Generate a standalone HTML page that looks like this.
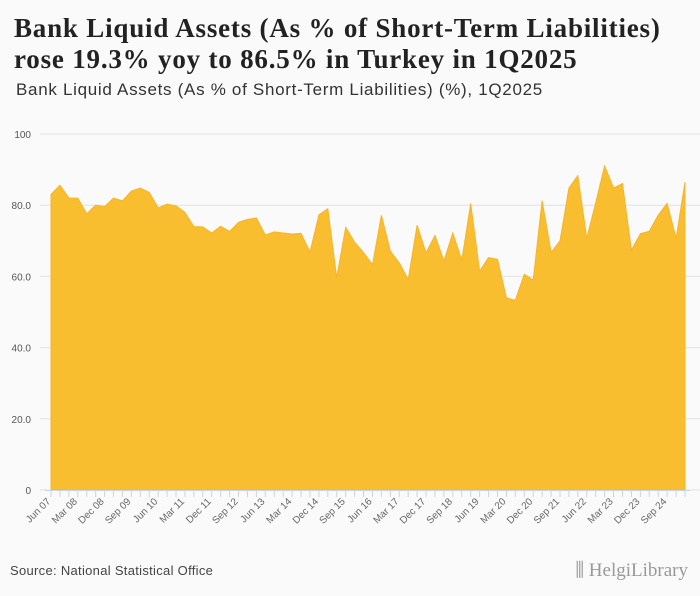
<!DOCTYPE html>
<html><head><meta charset="utf-8"><style>
body{margin:0;background:#fafafa;}
#wrap{width:700px;height:596px;position:relative;background:#fafafa;font-family:"Liberation Sans",sans-serif;overflow:hidden}
h1{position:absolute;left:14px;top:13px;margin:0;font-family:"Liberation Serif",serif;font-weight:bold;font-size:27px;line-height:31px;letter-spacing:0.8px;color:#222}
.sub{position:absolute;left:16px;top:80px;font-size:17px;letter-spacing:0.7px;color:#333}
.src{position:absolute;left:10px;top:563px;font-size:13px;letter-spacing:0.3px;color:#444}
.logo{position:absolute;right:12px;top:560px;font-family:"Liberation Serif",serif;font-size:19px;color:#999}
</style></head><body>
<div id="wrap">
<h1>Bank Liquid Assets (As % of Short-Term Liabilities)<br>rose 19.3% yoy to 86.5% in Turkey in 1Q2025</h1>
<div class="sub">Bank Liquid Assets (As % of Short-Term Liabilities) (%), 1Q2025</div>
<svg id="chart" width="700" height="596" style="position:absolute;left:0;top:0"></svg>
<div class="src">Source: National Statistical Office</div>
<div class="logo">⫼ HelgiLibrary</div>
</div>
<script>
const values=[83.0,85.6,82.0,82.0,77.6,80.0,79.6,82.0,81.2,84.0,84.8,83.6,79.2,80.3,79.8,78.0,74.0,73.9,72.2,74.1,72.6,75.2,76.0,76.4,71.6,72.5,72.2,71.9,72.1,66.8,77.3,79.0,59.7,73.8,69.6,66.7,63.3,77.2,67.1,63.8,59.1,74.4,66.6,71.5,64.3,72.2,64.5,80.5,61.5,65.3,64.8,54.0,53.3,60.6,59.0,81.3,66.7,70.0,84.8,88.3,70.7,80.7,91.0,84.8,86.1,67.4,72.0,72.7,77.2,80.5,70.7,86.5];
const months=["Mar","Jun","Sep","Dec"];
const categories=[];
for(let i=0;i<72;i++){const q=(1+i)%4;const yr=2007+Math.floor((1+i)/4);categories.push(months[q]+" "+String(yr%100).padStart(2,"0"));}
const yTicks=[0,20,40,60,80,100];
const yTickLabels=["0","20.0","40.0","60.0","80.0","100"];
const NS="http://www.w3.org/2000/svg";
const svg=document.getElementById("chart");
const x0=51,x1=685,yB=490,yT=134;
const xs=i=>x0+i*(x1-x0)/(values.length-1);
const ys=v=>yB-(v/100)*(yB-yT);
function mk(t,a){const e=document.createElementNS(NS,t);for(const k in a)e.setAttribute(k,a[k]);svg.appendChild(e);return e;}
yTicks.forEach((t,i)=>{
 const g=mk("line",{x1:40,x2:700,y1:ys(t),y2:ys(t),stroke:"#e2e2e2","stroke-width":1});
 
 
 const l=mk("text",{x:31,y:ys(t)+4,"text-anchor":"end","font-size":10,fill:"#555","font-family":"Liberation Sans, sans-serif"});
 l.textContent=yTickLabels[i];
 
 
});
let d="M"+xs(0)+","+yB;
values.forEach((v,i)=>{d+=" L"+xs(i).toFixed(1)+","+ys(v).toFixed(1);});
d+=" L"+xs(values.length-1)+","+yB+" Z";
const area=mk("path",{d:d,fill:"#f9bd30",stroke:"#f7b52a","stroke-width":1});


const ax=mk("line",{x1:45,x2:690,y1:yB+0.5,y2:yB+0.5,stroke:"#c8d4e8"});


values.forEach((v,i)=>{
 const tk=mk("line",{x1:xs(i),x2:xs(i),y1:yB,y2:yB+7,stroke:"#c8d4e8"});
 
 
 if(i%3===0){
  const tx=xs(i),ty=yB+12;
  const t=mk("text",{x:tx,y:ty,"text-anchor":"end","font-size":10,fill:"#666","font-family":"Liberation Sans, sans-serif",transform:`rotate(-45 ${tx} ${ty})`});
  t.textContent=categories[i];
  
  
 }
});
</script>
</body></html>
